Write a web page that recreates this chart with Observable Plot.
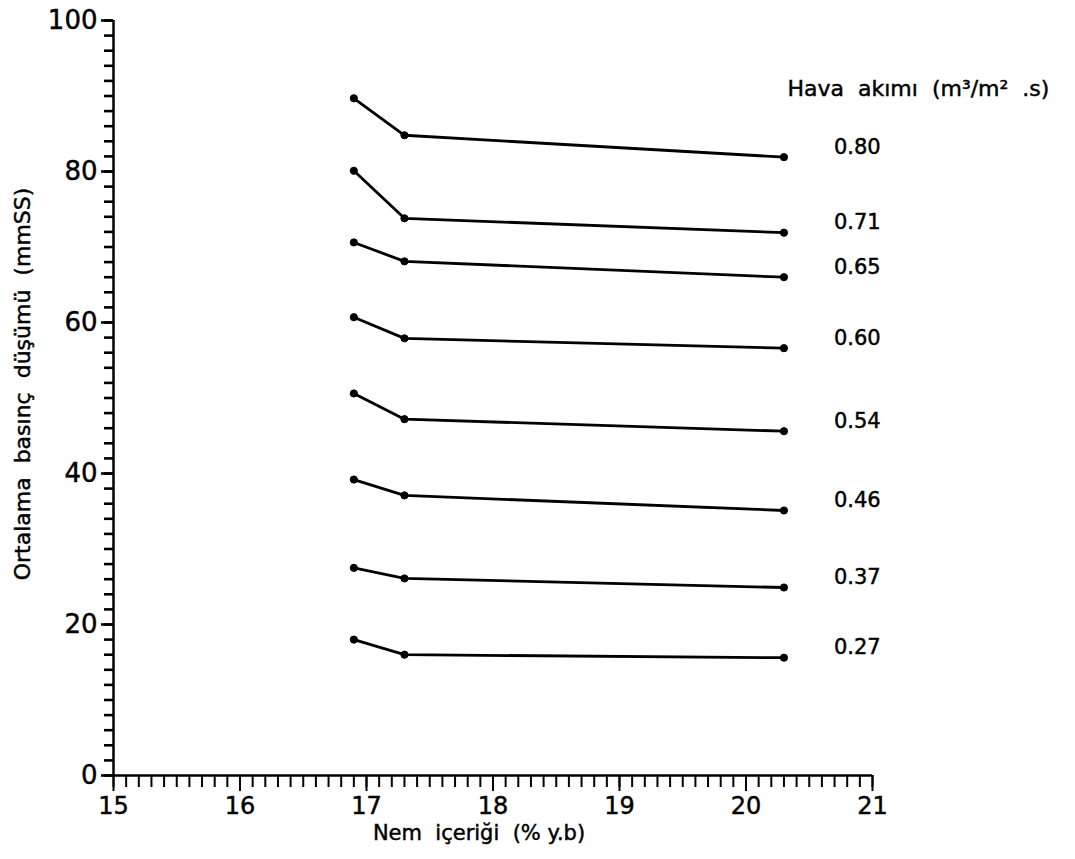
<!DOCTYPE html>
<html>
<head>
<meta charset="utf-8">
<script src="https://cdn.jsdelivr.net/npm/d3@7"></script>
<script src="https://cdn.jsdelivr.net/npm/@observablehq/plot@0.6"></script>
<style>
  html, body { margin: 0; padding: 0; background: #fff; }
  #chart { width: 1075px; height: 859px; overflow: hidden; }
  svg { font-family: "DejaVu Sans", sans-serif; }
  svg text { stroke: #000; stroke-width: 0.45px; }
</style>
</head>
<body>
<div id="chart"></div>
<script>
// Moisture content (% w.b.) at which measurements were taken
const nem = [16.9, 17.3, 20.3];
// Airflow rates (m3/m2.s) – series labels
const havaAkimi = ["0.80", "0.71", "0.65", "0.60", "0.54", "0.46", "0.37", "0.27"];
// Mean pressure drop (mmSS) per airflow series
const s080 = [89.7, 84.8, 81.9];
const s071 = [80.1, 73.8, 71.9];
const s065 = [70.6, 68.1, 66.0];
const s060 = [60.7, 57.9, 56.6];
const s054 = [50.6, 47.2, 45.6];
const s046 = [39.2, 37.1, 35.1];
const s037 = [27.5, 26.1, 24.9];
const s027 = [18.0, 16.0, 15.6];
const seriesValues = [s080, s071, s065, s060, s054, s046, s037, s027];
// Axis ticks
const xTicks = [15, 16, 17, 18, 19, 20, 21];
const yTicks = [0, 20, 40, 60, 80, 100];
const xMinor = d3.range(150, 211).map(d => d / 10);
const yMinor = d3.range(0, 101, 2);

const rows = [];
seriesValues.forEach((vals, i) => {
  vals.forEach((v, j) => rows.push({akim: havaAkimi[i], x: nem[j], y: v}));
});
const lastPts = seriesValues.map((vals, i) => ({akim: havaAkimi[i], x: nem[nem.length - 1], y: vals[vals.length - 1]}));
const sp = "\u00a0\u00a0";

const plot = Plot.plot({
  width: 1075,
  height: 859,
  marginLeft: 113,
  marginRight: 203,
  marginTop: 20,
  marginBottom: 84,
  style: {fontFamily: "DejaVu Sans, sans-serif", color: "#000", background: "transparent", overflow: "visible"},
  x: {domain: [15, 21]},
  y: {domain: [0, 100]},
  marks: [
    // minor ticks (x: downward, y: leftward)
    Plot.axisX({ticks: xMinor, tickSize: 12, text: null, label: null, strokeWidth: 2}),
    Plot.axisY({ticks: yMinor, tickSize: 9, text: null, label: null, strokeWidth: 2.6}),
    // major ticks + labels
    Plot.axisX({ticks: xTicks, tickSize: 16, tickPadding: 5, fontSize: 24, strokeWidth: 2, tickFormat: d => String(d), label: null}),
    Plot.axisY({ticks: yTicks, tickSize: 12, tickPadding: 4, fontSize: 26, strokeWidth: 2.6, tickFormat: d => String(d), label: null}),
    Plot.ruleX([15], {strokeWidth: 2.5}),
    Plot.ruleY([0], {strokeWidth: 2.5}),
    Plot.line(rows, {x: "x", y: "y", z: "akim", stroke: "#000", strokeWidth: 2.8}),
    Plot.dot(rows, {x: "x", y: "y", r: 3.6, fill: "#000", stroke: "#000", strokeWidth: 1}),
    Plot.text(lastPts, {x: "x", y: "y", text: "akim", dx: 50, dy: -10, textAnchor: "start", fontSize: 21, fill: "#000"}),
    Plot.text(["Hava" + sp + "akımı" + sp + "(m³/m²" + sp + ".s)"], {frameAnchor: "top-right", dx: -85, dy: 60, textAnchor: "start", fontSize: 22, fill: "#000"}),
    Plot.text(["Nem" + sp + "içeriği" + sp + "(% y.b)"], {frameAnchor: "bottom", dx: -14, dy: 64, textAnchor: "middle", fontSize: 21, fill: "#000"}),
    Plot.text(["Ortalama" + sp + "basınç" + sp + "düşümü" + sp + "(mmSS)"], {frameAnchor: "left", dx: -91, dy: -14, textAnchor: "middle", rotate: -90, fontSize: 22, fill: "#000"})
  ]
});
document.getElementById("chart").appendChild(plot);
</script>
</body>
</html>
